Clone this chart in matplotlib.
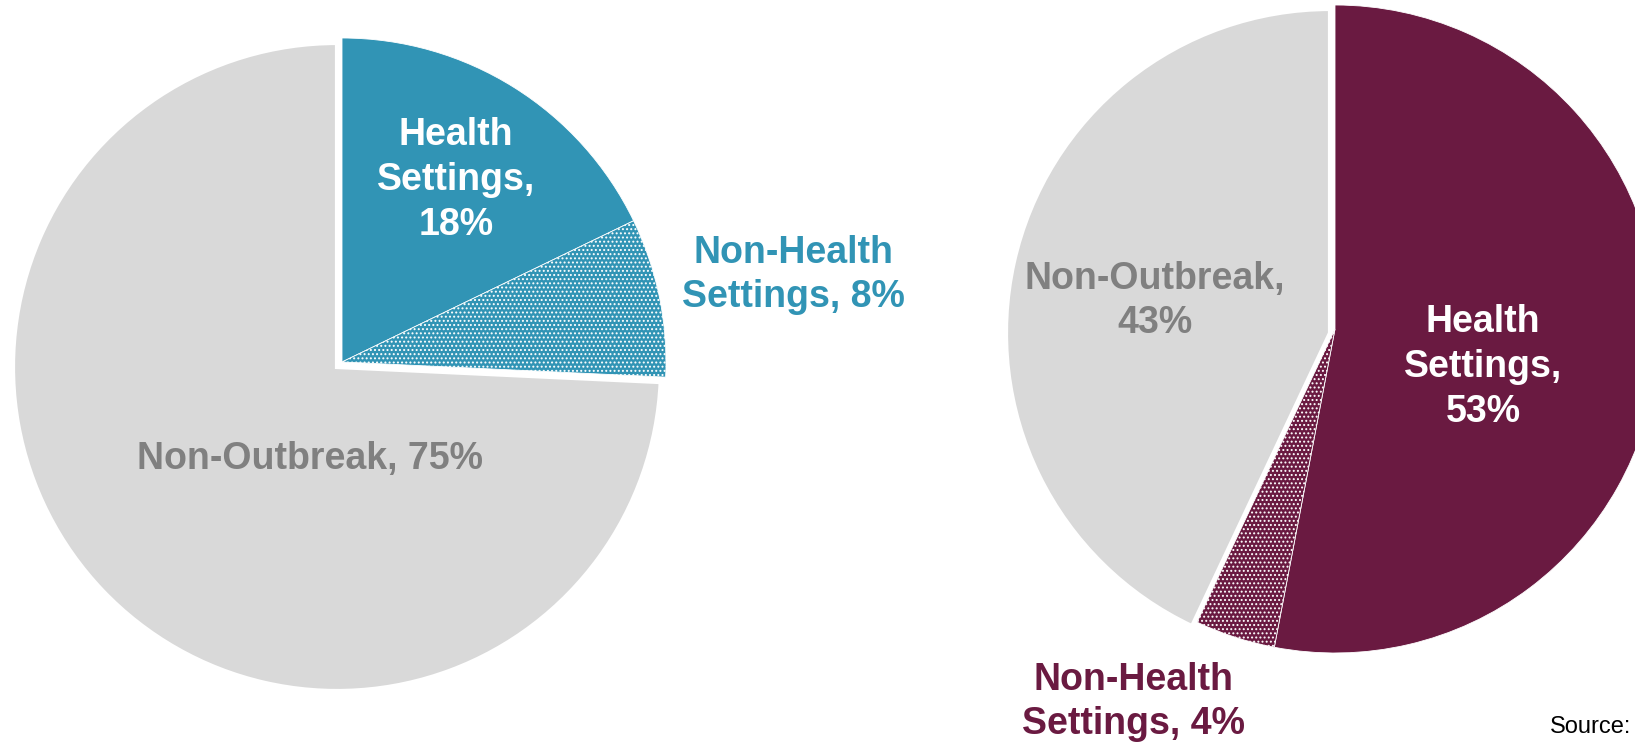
import matplotlib
matplotlib.use("Agg")
import matplotlib.pyplot as plt

# data
categories = ['Health Settings', 'Non-Health Settings', 'Non-Outbreak']
left_values = [18, 8, 75]
right_values = [53, 4, 43]
left_labels = ['Health\nSettings,\n18%', 'Non-Health\nSettings, 8%', 'Non-Outbreak, 75%']
right_labels = ['Health\nSettings,\n53%', 'Non-Health\nSettings, 4%', 'Non-Outbreak,\n43%']

TEAL = '#3194B5'
MAROON = '#6A1A41'
GRAY = '#D9D9D9'
GRAY_TXT = '#808080'

W, H = 1635, 748
plt.rcParams['font.family'] = ['Liberation Sans', 'DejaVu Sans']
plt.rcParams['hatch.linewidth'] = 0.9

fig = plt.figure(figsize=(W / 100, H / 100), dpi=100)
ax = fig.add_axes([0, 0, 1, 1])


def py(y):
    # pixel row (from top) -> data y
    return H - y


def draw_pie(values, color, center, radius, shift):
    cx, cy = center
    wedges, _ = ax.pie(values, colors=[color, color, GRAY], startangle=90,
                       counterclock=False, center=(cx, py(cy)), radius=radius,
                       wedgeprops=dict(edgecolor='white', linewidth=0.6))
    wedges[1].set_hatch('....')
    wedges[2].set_linewidth(3)
    for w in wedges[:2]:
        w.set_center((cx + shift[0], py(cy + shift[1])))
    return wedges


draw_pie(left_values, TEAL, (337, 367), 324, (5, -5))
draw_pie(right_values, MAROON, (1330, 333), 324, (5, -4))

fs = 27
bold = dict(fontsize=fs, fontweight='bold', ha='center', va='center', linespacing=1.32)

# left pie labels
ax.text(456, py(180), left_labels[0], color='white', **bold)
ax.text(793, py(275), left_labels[1], color=TEAL, **bold)
ax.text(310, py(459), left_labels[2], color=GRAY_TXT, **bold)

# right pie labels
ax.text(1483, py(367), right_labels[0], color='white', **bold)
ax.text(1134, py(702), right_labels[1], color=MAROON, **bold)
ax.text(1155, py(301), right_labels[2], color=GRAY_TXT, **bold)

ax.text(1550, py(727), 'Source:', fontsize=17, color='black', ha='left', va='center')

ax.set_xlim(0, W)
ax.set_ylim(0, H)
ax.set_aspect('equal')
ax.axis('off')

fig.savefig('out.png', dpi=100)
